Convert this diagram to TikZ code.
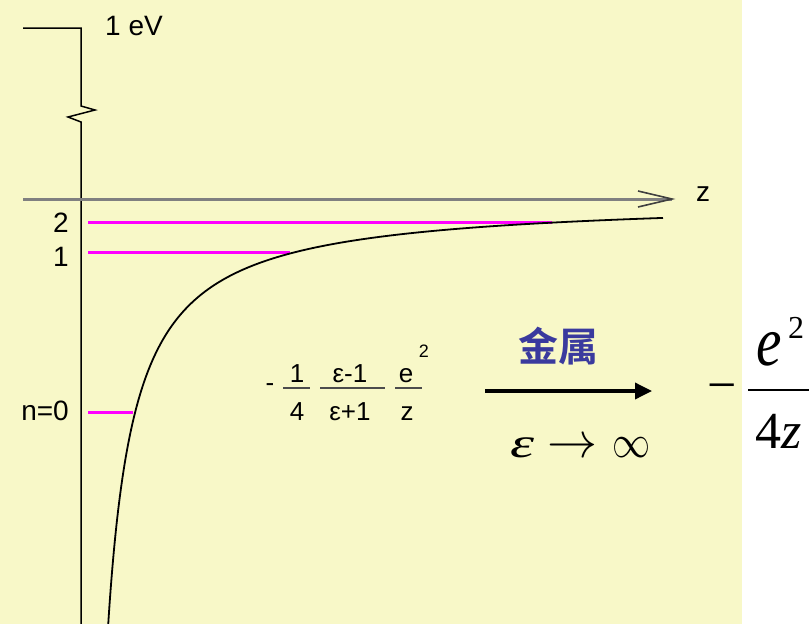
\documentclass[tikz,border=0pt]{standalone}
\usepackage{fontspec}
\setmainfont{Liberation Sans}
\newfontfamily\serifm{Liberation Serif}
\newfontfamily\cjk{Noto Sans CJK SC}[BoldFont={Noto Sans CJK SC Bold}]
\usetikzlibrary{arrows.meta}
\definecolor{bgyellow}{HTML}{F8F8C8}
\definecolor{kblue}{HTML}{3A3A9E}
\definecolor{lvlmag}{HTML}{FF00FF}
\newcommand\tensize[1]{{\fontsize{10}{12}\selectfont #1}}
\begin{document}
\begin{tikzpicture}[x=1pt,y=-1pt,
  lvl/.style={draw=lvlmag, line width=3pt},
  lbl/.style={font=\fontsize{28}{30}\selectfont, inner sep=0pt},
  fr/.style={font=\fontsize{26}{28}\selectfont, inner sep=0pt, anchor=base},
  fbar/.style={draw=black!70, line width=1.5pt},
  big/.style={font=\serifm\fontsize{52}{52}\selectfont, inner sep=0pt}]
\useasboundingbox (0,0) rectangle (809,624);
\clip (0,0) rectangle (809,624);
\fill[bgyellow] (0,0) rectangle (742,624);
\fill[white] (742,0) rectangle (809,624);

% vertical energy axis with break
\coordinate (t0) at (23,28);
\coordinate (t1) at (81,28);
\coordinate (bot) at (81,624);
\draw[line width=1.5pt] (t0) -- (t1) -- (81,106) -- (95,110) -- (68,117) -- (81,122) -- (bot);
\node[lbl, anchor=west] (ev) at (105,26) {1 eV};

% z axis
\coordinate (za) at (23,199);
\coordinate (zb) at (672,199);
\draw[gray, line width=3pt] (za) -- (zb);
\draw[black!75, line width=1.6pt] (638,191) -- (zb) -- (638,207);
\node[lbl] (z) at (703,194) {z};

% levels
\draw[lvl] (88,222) -- (552,222);
\draw[lvl] (88,252) -- (290,252);
\draw[lvl] (88,412) -- (133,412);
\node[lbl, anchor=east] (l2) at (69,223) {2};
\node[lbl, anchor=east] (l1) at (69,257) {1};
\node[lbl, anchor=east] (l0) at (69,411) {n=0};

% image potential
\draw[line width=1.8pt, domain=107:663, samples=300, smooth]
  plot (\x, {198+11600/(\x-81)});

% formula
\node[fr, anchor=center] (mn) at (270,388) {-};
\node[fr] (n1) at (297,382) {1};
\node[fr] (d1) at (297,420) {4};
\draw[fbar] (283,388) -- (310,388);
\node[fr] (n2) at (350,382) {ε-1};
\node[fr] (d2) at (350,420) {ε+1};
\draw[fbar] (320,388) -- (385,388);
\node[fr] (n3) at (406,382) {e};
\node[font=\fontsize{18}{18}\selectfont, inner sep=0pt, anchor=base] (n3s) at (424,357) {2};
\node[fr] (d3) at (407,420) {z};
\draw[fbar] (395,388) -- (422,388);

% limit arrow
\node[font=\cjk\bfseries\fontsize{40}{40}\selectfont, text=kblue, inner sep=0pt] (metal) at (558,346) {金属};
\coordinate (a0) at (485,391);
\coordinate (a1) at (652,391);
\draw[line width=3.5pt, -{Triangle[length=17pt,width=16pt]}] (a0) -- (a1);
\node[font=\serifm\fontsize{42}{42}\selectfont, inner sep=0pt, anchor=base west] (lim) at (510,457)
  {\scalebox{1.45}[1]{\itshape ε}\hspace{13pt}\tensize{\scalebox{5}{$\to$}}\hspace{15pt}\tensize{\scalebox{3.8}[4.6]{$\infty$}}};

% metal result
\node[big, anchor=base] (rm) at (722,402) {−};
\draw[line width=2.5pt] (748,390) -- (815,390);
\node[big, anchor=base west] (re) at (756,365) {\scalebox{1.1}[1.35]{\itshape e}};
\node[font=\serifm\fontsize{32}{32}\selectfont, inner sep=0pt, anchor=base west] (re2) at (788,338) {2};
\node[big, anchor=base west] (rd) at (755,448) {4\itshape z};
\end{tikzpicture}
\end{document}
